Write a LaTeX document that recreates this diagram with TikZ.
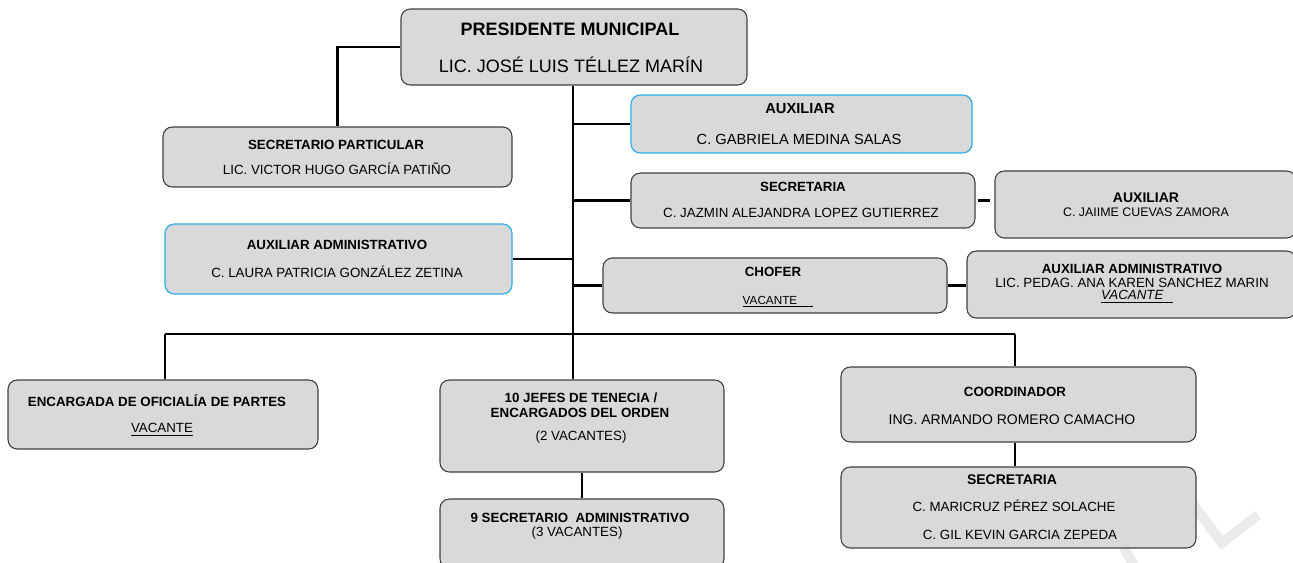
\documentclass[tikz,border=0pt]{standalone}
\usepackage{fontspec}
\setmainfont{Liberation Sans}
\usetikzlibrary{fit}
\definecolor{boxf}{HTML}{D9D9D9}
\definecolor{bordc}{HTML}{404040}
\definecolor{bluec}{HTML}{29B0E8}
\definecolor{wmark}{HTML}{EBEBEB}
\tikzset{
  box/.style={draw=bordc, fill=boxf, line width=0.8pt, rounded corners=7pt, inner sep=0pt, rectangle},
  bbox/.style={box, draw=bluec, line width=0.9pt},
  conn/.style={line width=1.6pt, draw=black},
  txt/.style={inner sep=0pt, text depth=0pt, text height={0.716*#1pt}, font=\fontsize{#1}{#1}\selectfont},
  txt/.default=10,
  btxt/.style={inner sep=0pt, text depth=0pt, text height={0.716*#1pt}, font=\bfseries\fontsize{#1}{#1}\selectfont},
  btxt/.default=10,
}
\begin{document}
\begin{tikzpicture}[x=0.75pt, y=-0.75pt]
\useasboundingbox (0,0) rectangle (1293,563);
% watermark
\draw[wmark, line width=7.5pt] (1180,487) -- (1222,543) -- (1258,515);
\draw[wmark, line width=7.5pt] (1124,548) -- (1134,566);

% boxes
\node[box, fit={(401,9) (747,85)}] (pres) {};
\node[box, fit={(163,127) (512,187)}] (secp) {};
\node[bbox, fit={(165,224) (512,294)}] (auxl) {};
\node[bbox, fit={(631,95) (972,153)}] (aux1) {};
\node[box, fit={(631,173) (975,228)}] (sec1) {};
\node[box, fit={(995,171) (1296,238)}] (aux2) {};
\node[box, fit={(603,258) (947,313)}] (chof) {};
\node[box, fit={(967,251) (1296,318)}] (auxad) {};
\node[box, fit={(8,380) (318,449)}] (enc) {};
\node[box, fit={(440,380) (724,472)}] (jef) {};
\node[box, fit={(440,499) (724,568)}] (nsec) {};
\node[box, fit={(841,367) (1196,442)}] (coord) {};
\node[box, fit={(841,467) (1196,548)}] (sec2) {};

% texts
\node[btxt=13.5] (presT) at (570,29) {PRESIDENTE MUNICIPAL};
\node[txt=13.5] (presN) at (571,66) {LIC. JOSÉ LUIS TÉLLEZ MARÍN};

\node[btxt] (secpT) at (336,144.5) {SECRETARIO PARTICULAR};
\node[txt] (secpN) at (337,170) {LIC. VICTOR HUGO GARCÍA PATIÑO};

\node[btxt] (auxlT) at (337,244.5) {AUXILIAR ADMINISTRATIVO};
\node[txt] (auxlN) at (337,272.5) {C. LAURA PATRICIA GONZÁLEZ ZETINA};

\node[btxt=11] (aux1T) at (800,108) {AUXILIAR};
\node[txt=11] (aux1N) at (799,139.5) {C. GABRIELA MEDINA SALAS};

\node[btxt] (sec1T) at (803,187) {SECRETARIA};
\node[txt] (sec1N) at (801,213) {C. JAZMIN ALEJANDRA LOPEZ GUTIERREZ};

\node[btxt=10.5] (aux2T) at (1146,197) {AUXILIAR};
\node[txt=9.3] (aux2N) at (1146,212) {C. JAIIME CUEVAS ZAMORA};

\node[btxt] (chofT) at (773,272) {CHOFER};
\node[txt=8.8] (chofN) at (778,300) {\underline{VACANTE\hspace{12pt}}};

\node[btxt] (auxadT) at (1132,269) {AUXILIAR ADMINISTRATIVO};
\node[txt] (auxadN) at (1132,283) {LIC. PEDAG. ANA KAREN SANCHEZ MARIN};
\node[txt] (auxadV) at (1137,295) {\underline{\itshape VACANTE\hspace{7pt}}};

\node[btxt] (encT) at (157,402) {ENCARGADA DE OFICIALÍA DE PARTES};
\node[txt] (encN) at (162,428) {\underline{VACANTE}};

\node[btxt] (jefT) at (581,398) {10 JEFES DE TENECIA /};
\node[btxt] (jefT2) at (580,412.5) {ENCARGADOS DEL ORDEN};
\node[txt] (jefN) at (581,435.5) {(2 VACANTES)};

\node[btxt] (nsecT) at (580,518) {9 SECRETARIO\ \ ADMINISTRATIVO};
\node[txt] (nsecN) at (577,532) {(3 VACANTES)};

\node[btxt] (coordT) at (1015,391.5) {COORDINADOR};
\node[txt=10.5] (coordN) at (1012,419.5) {ING. ARMANDO ROMERO CAMACHO};

\node[btxt=10.5] (sec2T) at (1012,479.5) {SECRETARIA};
\node[txt] (sec2N) at (1014,506.5) {C. MARICRUZ PÉREZ SOLACHE};
\node[txt] (sec2N2) at (1020,534.5) {C. GIL KEVIN GARCIA ZEPEDA};

% connectors
\coordinate (tk) at (573,334);
\coordinate (busL) at (165,334);
\coordinate (busR) at (1015,334);
\draw[conn] (pres.west) -| (secp.north);
\draw[conn] (pres.south -| tk) -- (tk);
\draw[conn] (aux1.west) -- (aux1.west -| tk);
\draw[conn] (sec1.west) -- (sec1.west -| tk);
\draw[conn] (auxl.east) -- (auxl.east -| tk);
\draw[conn] (chof.west) -- (chof.west -| tk);
\draw[conn] (chof.east) -- (auxad.west |- chof.east);
\draw[conn] ([xshift=2.2pt]sec1.east) -- ([xshift=-3.5pt]aux2.west |- sec1.east);
\draw[conn] (busL) -- (busR);
\draw[conn] (busL) -- (busL |- enc.north);
\draw[conn] (tk) -- (tk |- jef.north);
\draw[conn] (busR) -- (busR |- coord.north);
\draw[conn] (jef.south) -- (nsec.north);
\draw[conn] (busR |- coord.south) -- (busR |- sec2.north);
\end{tikzpicture}
\end{document}
